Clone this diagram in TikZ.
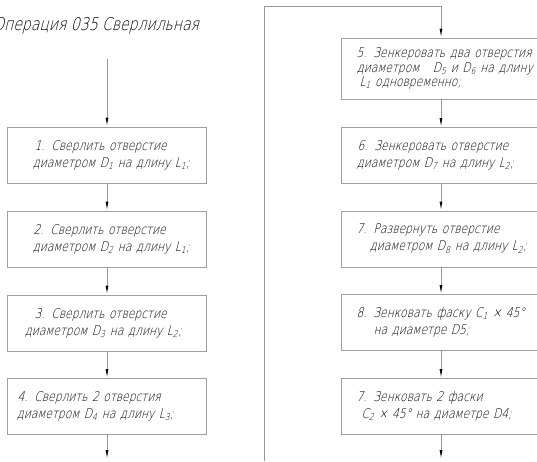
\documentclass[tikz,border=0pt]{standalone}
\usepackage{fontspec}
\newfontfamily\gost{DejaVu Sans ExtraLight}[FakeSlant=0.26, FakeStretch=0.8]
\usetikzlibrary{arrows.meta}
\newcommand{\sbs}[1]{\textsubscript{#1}}
\tikzset{
    stepbox/.style={draw=gray!75, line width=0.9pt, minimum width=199pt, minimum height=56pt,
        text width=199pt, inner xsep=0pt, align=left, font=\gost\fontsize{13.4}{17}\selectfont},
    flow/.style={draw=gray!80, line width=0.9pt, -{Latex[length=9pt,width=3pt,color=black]}}
}
\begin{document}
\begin{tikzpicture}[x=1pt,y=-1pt]
        \useasboundingbox (0,0) rectangle (537,461);
        \clip (0,0) rectangle (537,461);

        \node[anchor=west, inner sep=0pt, font=\gost\fontsize{17.5}{20}\selectfont] (title) at (-7,26) {Операция 035 Сверлильная};
        \coordinate (start) at (107,59);
        \node[stepbox] (s1) at (107,155) {\hspace*{27pt}1. Сверлить отверстие\\\hspace*{25pt}диаметром D\sbs{1} на длину L\sbs{1};};
        \node[stepbox] (s2) at (107,239) {\hspace*{26pt}2. Сверлить отверстие\\\hspace*{25pt}диаметром D\sbs{2} на длину L\sbs{1};};
        \node[stepbox] (s3) at (107,323) {\hspace*{27pt}3. Сверлить отверстие\\\hspace*{17pt}диаметром D\sbs{3} на длину L\sbs{2};};
        \node[stepbox] (s4) at (107,406.5) {\hspace*{10pt}4. Сверлить 2 отверстия\\\hspace*{9pt}диаметром D\sbs{4} на длину L\sbs{3};};
        \coordinate (endA) at (107,459);

        % connector over to the second column
        \coordinate (up) at (264,461);
        \coordinate (turn) at (264,6);
        \coordinate (over) at (441,6);

        \node[stepbox, minimum height=61pt, font=\gost\fontsize{13.4}{14.5}\selectfont] (s5) at (441,68.5)
            {\hspace*{15pt}5. Зенкеровать два отверстия\\\hspace*{15pt}диаметром \ \ D\sbs{5} и D\sbs{6} на длину\\\hspace*{18pt}L\sbs{1} одновременно;};
        \node[stepbox] (s6) at (441,155.5) {\hspace*{16pt}6. Зенкеровать отверстие\\\hspace*{15pt}диаметром D\sbs{7} на длину L\sbs{2};};
        \node[stepbox] (s7) at (441,239) {\hspace*{15pt}7. Развернуть отверстие\\\hspace*{28pt}диаметром D\sbs{8} на длину L\sbs{2};};
        \node[stepbox] (s8) at (441,322.5) {\hspace*{15pt}8. Зенковать фаску C\sbs{1} × 45°\\\hspace*{32pt}на диаметре D5;};
        \node[stepbox] (s9) at (441,406.5) {\hspace*{15pt}7. Зенковать 2 фаски\\\hspace*{20pt}C\sbs{2} × 45° на диаметре D4;};
        \coordinate (endB) at (441,459);

        \draw[flow] (start) -- (s1);
        \draw[flow] (s1) -- (s2);
        \draw[flow] (s2) -- (s3);
        \draw[flow] (s3) -- (s4);
        \draw[flow] (s4) -- (endA);
        \draw[flow] (up) -- (turn) -- (over) -- (s5);
        \draw[flow] (s5) -- (s6);
        \draw[flow] (s6) -- (s7);
        \draw[flow] (s7) -- (s8);
        \draw[flow] (s8) -- (s9);
        \draw[flow] (s9) -- (endB);
\end{tikzpicture}
\end{document}
